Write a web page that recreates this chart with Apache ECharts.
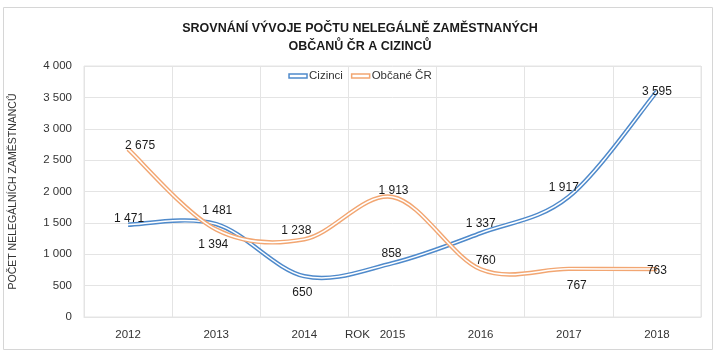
<!DOCTYPE html>
<html><head><meta charset="utf-8">
<script src="https://cdn.jsdelivr.net/npm/echarts@6/dist/echarts.min.js"></script>
<style>html,body{margin:0;padding:0;background:#fff}#c{width:720px;height:359px}</style>
</head><body><div id="c"></div>
<script>
const years = ['2012','2013','2014','2015','2016','2017','2018'];
const cizinci = [1471, 1481, 650, 858, 1337, 1917, 3595];
const obcane = [2675, 1394, 1238, 1913, 760, 767, 763];
const seriesNames = ['Cizinci', 'Občané ČR'];
const yMin = 0, yMax = 4000, yStep = 500;

// label placement (styling only)
const offC = [[1,-6],[1,-13],[-2,16],[-1,-9],[0,-9],[-5,-9],[0,0]];
const offO = [[12,-3],[-3,15],[-8,-9],[1,-6],[5,-9],[8,17],[0,2]];

const FONT = '"Liberation Sans", "DejaVu Sans", sans-serif';
const BLUE = '#4F8ACB', ORANGE = '#F2A672';
const fmt = v => String(v).replace(/\B(?=(\d{3})+(?!\d))/g, ' ');

// Excel-like smoothed (Catmull-Rom) double line, drawn via the axes' coordinate system
function curveSeries(name, vals, color) {
  return {
    name, type: 'custom', z: 3, silent: true, animation: false,
    itemStyle: { color },
    data: vals.map((v, i) => [i, v]),
    renderItem: function (params, api) {
      if (params.dataIndex !== 0) return null;
      const P = vals.map((v, i) => api.coord([i, v]));
      let d = 'M' + P[0][0] + ' ' + P[0][1];
      for (let i = 0; i < P.length - 1; i++) {
        const p0 = P[Math.max(i - 1, 0)], p1 = P[i], p2 = P[i + 1], p3 = P[Math.min(i + 2, P.length - 1)];
        const c1 = [p1[0] + (p2[0] - p0[0]) / 6, p1[1] + (p2[1] - p0[1]) / 6];
        const c2 = [p2[0] - (p3[0] - p1[0]) / 6, p2[1] - (p3[1] - p1[1]) / 6];
        d += ' C' + c1[0] + ' ' + c1[1] + ' ' + c2[0] + ' ' + c2[1] + ' ' + p2[0] + ' ' + p2[1];
      }
      return {
        type: 'group',
        children: [
          { type: 'path', shape: { pathData: d }, style: { fill: null, stroke: color, lineWidth: 4.4, lineJoin: 'round' } },
          { type: 'path', shape: { pathData: d }, style: { fill: null, stroke: '#fff', lineWidth: 1.5, lineJoin: 'round' } }
        ]
      };
    }
  };
}
function labelSeries(name, vals, offs) {
  return {
    name: name + ' ', type: 'line', z: 5, silent: true, animation: false,
    data: vals.map((v, i) => ({ value: v, label: { offset: offs[i] } })),
    symbol: 'circle', symbolSize: 1, itemStyle: { color: 'rgba(0,0,0,0)' },
    lineStyle: { width: 0, opacity: 0 },
    label: { show: true, position: 'inside', color: '#1a1a1a', fontSize: 12, fontFamily: FONT,
      formatter: p => fmt(p.value) },
    emphasis: { disabled: true }
  };
}

const chart = echarts.init(document.getElementById('c'));
chart.setOption({
  backgroundColor: '#fff',
  animation: false,
  title: {
    text: 'SROVNÁNÍ VÝVOJE POČTU NELEGÁLNĚ ZAMĚSTNANÝCH\nOBČANŮ ČR A CIZINCŮ',
    left: 'center', top: 15,
    textStyle: { fontSize: 12.5, fontWeight: 'bold', fontFamily: FONT, color: '#1a1a1a', lineHeight: 18 }
  },
  legend: {
    data: [
      { name: seriesNames[0], icon: 'rect', itemStyle: { color: '#fff', borderColor: BLUE, borderWidth: 1.5 } },
      { name: seriesNames[1], icon: 'rect', itemStyle: { color: '#fff', borderColor: ORANGE, borderWidth: 1.5 } }
    ],
    top: 65, left: 'center', itemWidth: 18, itemHeight: 4, itemGap: 8,
    textStyle: { fontSize: 11.5, fontFamily: FONT, color: '#333', padding: [0,0,0,-3] }
  },
  grid: { left: 84, right: 19, top: 66, bottom: 42, show: true, borderColor: '#E4E4E4', borderWidth: 1, outerBoundsMode: 'none' },
  xAxis: {
    type: 'category', data: years, boundaryGap: true,
    name: 'ROK', nameLocation: 'middle', nameGap: 12, nameMoveOverlap: false,
    nameTextStyle: { fontSize: 11.5, fontFamily: FONT, color: '#333', padding: [0, 70, 0, 0], verticalAlign: 'top' },
    axisLine: { lineStyle: { color: '#E4E4E4' } }, axisTick: { show: false },
    axisLabel: { margin: 12, fontSize: 11.5, fontFamily: FONT, color: '#333' },
    splitLine: { show: true, lineStyle: { color: '#E4E4E4' } }
  },
  yAxis: {
    type: 'value', min: yMin, max: yMax, interval: yStep,
    name: 'POČET NELEGÁLNÍCH ZAMĚSTNANCŮ', nameLocation: 'middle', nameGap: 65, nameMoveOverlap: false,
    nameTextStyle: { fontSize: 10.5, fontFamily: FONT, color: '#333' },
    axisLine: { show: false }, axisTick: { show: false },
    axisLabel: { margin: 12, fontSize: 11.5, fontFamily: FONT, color: '#333', formatter: v => fmt(v) },
    splitLine: { lineStyle: { color: '#E4E4E4' } }
  },
  graphic: [{ type: 'rect', shape: { x: 3.5, y: 7.5, width: 709, height: 342 }, style: { fill: 'none', stroke: '#D6D6D6', lineWidth: 1 }, silent: true }],
  series: [
    curveSeries(seriesNames[0], cizinci, BLUE),
    curveSeries(seriesNames[1], obcane, ORANGE),
    labelSeries(seriesNames[0], cizinci, offC),
    labelSeries(seriesNames[1], obcane, offO)
  ]
});
</script></body></html>
